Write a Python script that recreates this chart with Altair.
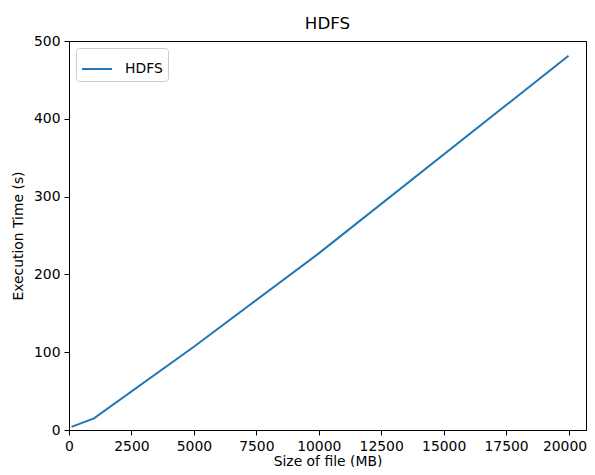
import altair as alt
import pandas as pd

sizes_mb = [100, 1000, 5000, 10000, 20000]
exec_time_s = [4, 15, 107, 227, 481]
series = ["HDFS"] * len(sizes_mb)

x_ticks = [0, 2500, 5000, 7500, 10000, 12500, 15000, 17500, 20000]
y_ticks = [0, 100, 200, 300, 400, 500]

df = pd.DataFrame({"size": sizes_mb, "time": exec_time_s, "series": series})

FONT = "DejaVu Sans"

chart = (
    alt.Chart(df)
    .mark_line(strokeWidth=2)
    .encode(
        x=alt.X(
            "size:Q",
            title="Size of file (MB)",
            scale=alt.Scale(domain=[0, 20700], nice=False, zero=False),
            axis=alt.Axis(
                values=x_ticks,
                format="d",
                labelFlush=False,
                labelOffset={"condition": {"test": "datum.value == 20000", "value": -4}, "value": 0},
                titleY=35,
                titleBaseline="alphabetic",
            ),
        ),
        y=alt.Y(
            "time:Q",
            title="Execution Time (s)",
            scale=alt.Scale(domain=[0, 500], nice=False),
            axis=alt.Axis(values=y_ticks, format="d", titlePadding=8),
        ),
        color=alt.Color(
            "series:N",
            scale=alt.Scale(domain=["HDFS"], range=["#1f77b4"]),
            legend=alt.Legend(
                title=None,
                orient="top-left",
                offset=7,
                symbolType="M-1,0L1,0",
                symbolSize=900,
                symbolStrokeWidth=2,
                labelFontSize=13.9,
                labelFont=FONT,
                labelColor="black",
                labelOffset=12,
                padding=5,
                fillColor="rgba(255,255,255,0.8)",
                strokeColor="#cccccc",
                cornerRadius=3,
            ),
        ),
    )
    .properties(
        width=517,
        height=389,
        title=alt.TitleParams(
            "HDFS",
            fontSize=16.7,
            font=FONT,
            fontWeight="normal",
            color="black",
            offset=1,
            frame="group",
        ),
        autosize=alt.AutoSizeParams(type="none"),
        padding={"left": 61, "top": 33, "right": 1, "bottom": 37},
    )
    .configure_view(stroke="black", strokeWidth=1)
    .configure_axis(
        domainColor="black",
        domainWidth=1,
        tickColor="black",
        tickWidth=1,
        tickSize=5,
        labelPadding=4,
        labelFont=FONT,
        labelFontSize=13.9,
        labelColor="black",
        titleFont=FONT,
        titleFontSize=13.9,
        titleFontWeight="normal",
        titleColor="black",
        grid=False,
    )
)

chart.save("out.html", embed_options={"renderer": "svg", "actions": False})
